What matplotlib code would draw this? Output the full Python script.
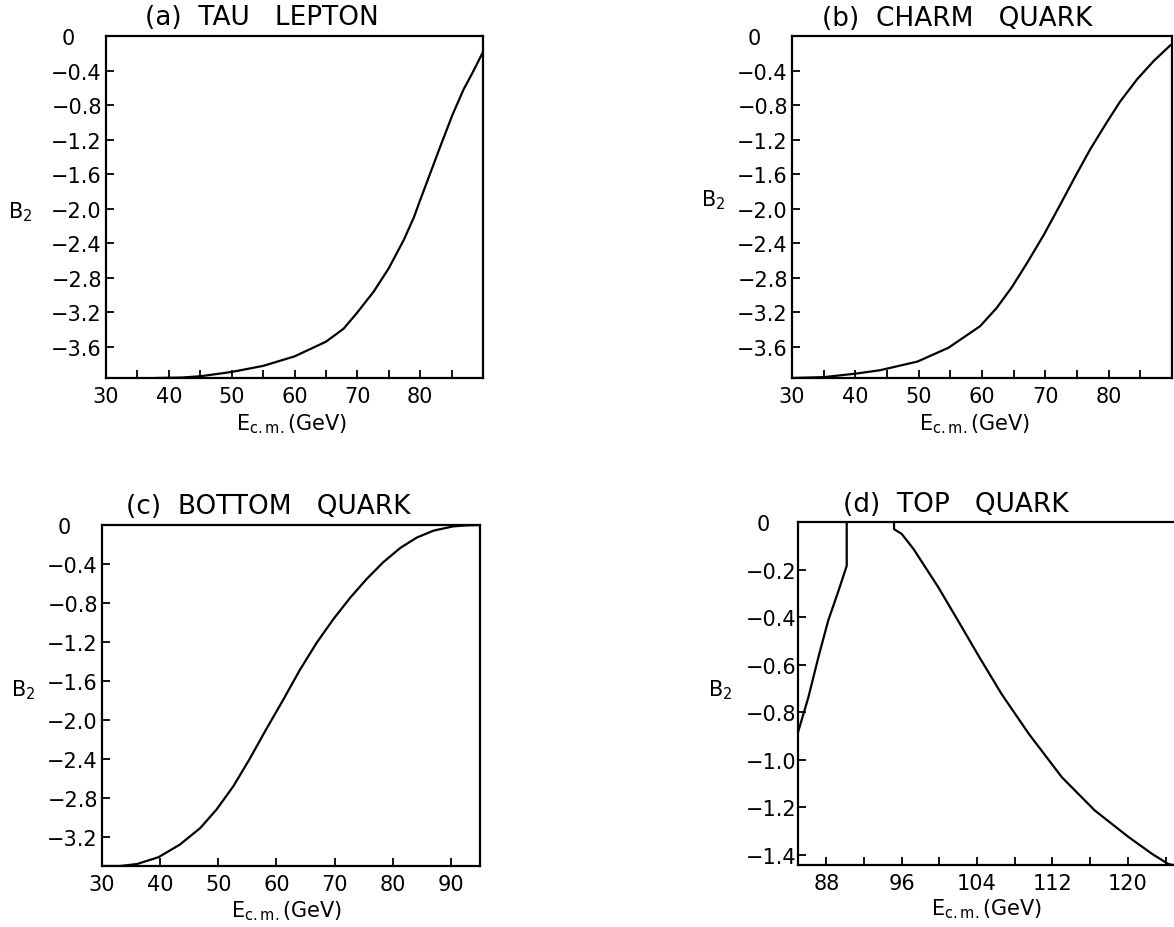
import matplotlib
matplotlib.use("Agg")
import matplotlib.pyplot as plt

plt.rcParams['font.family'] = ['DejaVu Sans']

# (a) tau lepton
tau_e = [38, 42, 45, 50, 55, 60, 65, 67.8, 69.9, 72.6, 75, 77.4, 79, 80, 81.6,
         83.2, 85.1, 86.9, 88.3, 89.9, 90]
tau_b2 = [-3.96, -3.955, -3.94, -3.89, -3.82, -3.71, -3.54, -3.39, -3.21, -2.96,
          -2.69, -2.36, -2.10, -1.90, -1.59, -1.28, -0.92, -0.62, -0.43, -0.20, -0.18]

# (b) charm quark
charm_e = [30, 35, 40, 43.9, 49.8, 54.7, 59.7, 62.3, 64.7, 67.1, 69.7, 72.3, 74.7,
           77.1, 79.7, 81.8, 84.5, 87.1, 89.7, 90]
charm_b2 = [-3.96, -3.95, -3.91, -3.87, -3.77, -3.61, -3.36, -3.15, -2.91, -2.63,
            -2.31, -1.96, -1.63, -1.31, -1.00, -0.76, -0.50, -0.29, -0.11, -0.10]

# (c) bottom quark
bottom_e = [30, 33.1, 36, 39.7, 43.4, 46.9, 49.7, 52.6, 55.4, 58.3, 61.2, 64, 66.9,
            69.8, 72.7, 75.5, 78.4, 81.3, 84.1, 87, 90.4, 92.7, 95]
bottom_b2 = [-3.50, -3.50, -3.48, -3.41, -3.28, -3.11, -2.92, -2.68, -2.40, -2.09,
             -1.79, -1.49, -1.21, -0.965, -0.745, -0.555, -0.38, -0.235, -0.13, -0.058,
             -0.014, -0.004, 0.0]

# (d) top quark, two branches
top1_e = [85.0, 86.1, 87.16, 88.2, 89.3, 90.17, 90.17]
top1_b2 = [-0.884, -0.737, -0.569, -0.415, -0.289, -0.184, 0.0]
top2_e = [95.19, 95.19, 96.0, 97.25, 99.9, 102.4, 104.15, 106.6, 109.5, 113.0,
          116.5, 120.1, 122.6, 124.3, 124.8]
top2_b2 = [0.0, -0.03, -0.05, -0.113, -0.275, -0.443, -0.562, -0.723, -0.891, -1.073,
           -1.213, -1.325, -1.396, -1.438, -1.442]

titles = ["(a)  TAU   LEPTON", "(b)  CHARM   QUARK", "(c)  BOTTOM   QUARK", "(d)  TOP   QUARK"]
xlabel = r"$\mathregular{E_{c.m.}}$(GeV)"
ylabel = r"$\mathregular{B_2}$"

W, H = 1174, 928
fig = plt.figure(figsize=(W / 100, H / 100), dpi=100)


def px_axes(left, top, right, bottom):
    return fig.add_axes([left / W, 1 - bottom / H, (right - left) / W, (bottom - top) / H])


def ylab(vals):
    return ["0    " if v == 0 else ("\u2212%.1f" % abs(v)) for v in vals]


def style(ax, xlim, ylim, xticks, xminor, yticks, ypad=3):
    ax.set_xlim(*xlim)
    ax.set_ylim(*ylim)
    ax.set_xticks(xticks)
    ax.set_xticklabels([str(v) for v in xticks])
    ax.set_xticks(xminor, minor=True)
    ax.set_yticks(yticks)
    ax.set_yticklabels(ylab(yticks))
    ax.tick_params(which='both', direction='in', length=6, width=1.3, labelsize=15)
    ax.tick_params(axis='x', pad=6)
    ax.tick_params(axis='y', pad=ypad)
    for s in ax.spines.values():
        s.set_linewidth(1.6)


def texts(title, title_xy, ylab_xy, xlab_xy):
    fig.text(title_xy[0] / W, 1 - title_xy[1] / H, title, ha='center', va='center', fontsize=19)
    fig.text(ylab_xy[0] / W, 1 - ylab_xy[1] / H, ylabel, ha='center', va='center', fontsize=15)
    fig.text(xlab_xy[0] / W, 1 - xlab_xy[1] / H, xlabel, ha='center', va='baseline', fontsize=15)


kw = dict(color='black', lw=1.6)
yt = [0, -0.4, -0.8, -1.2, -1.6, -2.0, -2.4, -2.8, -3.2, -3.6]

# (a)
ax = px_axes(106, 37, 483, 379)
ax.plot(tau_e, tau_b2, **kw)
style(ax, (30, 90), (-3.96, 0), [30, 40, 50, 60, 70, 80], list(range(35, 90, 10)), yt)
texts(titles[0], (262, 18), (20, 212), (292, 430))

# (b)
ax = px_axes(792, 37, 1172, 379)
ax.plot(charm_e, charm_b2, **kw)
style(ax, (30, 90), (-3.96, 0), [30, 40, 50, 60, 70, 80], list(range(35, 90, 10)), yt)
texts(titles[1], (957, 19), (713, 200), (975, 430))

# (c)
ax = px_axes(102, 526, 480, 867)
ax.plot(bottom_e, bottom_b2, **kw)
style(ax, (30, 95), (-3.5, 0), [30, 40, 50, 60, 70, 80, 90], [],
      [0, -0.4, -0.8, -1.2, -1.6, -2.0, -2.4, -2.8, -3.2])
texts(titles[2], (268, 507), (23, 690), (287, 917))

# (d)
ax = px_axes(798, 523, 1174, 866)
ax.plot(top1_e, top1_b2, **kw)
ax.plot(top2_e, top2_b2, **kw)
style(ax, (85, 124.9), (-1.442, 0), [88, 96, 104, 112, 120], [92, 100, 108, 116, 124],
      [0, -0.2, -0.4, -0.6, -0.8, -1.0, -1.2, -1.4], ypad=1)
ax.spines['right'].set_visible(False)
texts(titles[3], (956, 505), (720, 690), (987, 915))

fig.savefig("out.png", dpi=100)
